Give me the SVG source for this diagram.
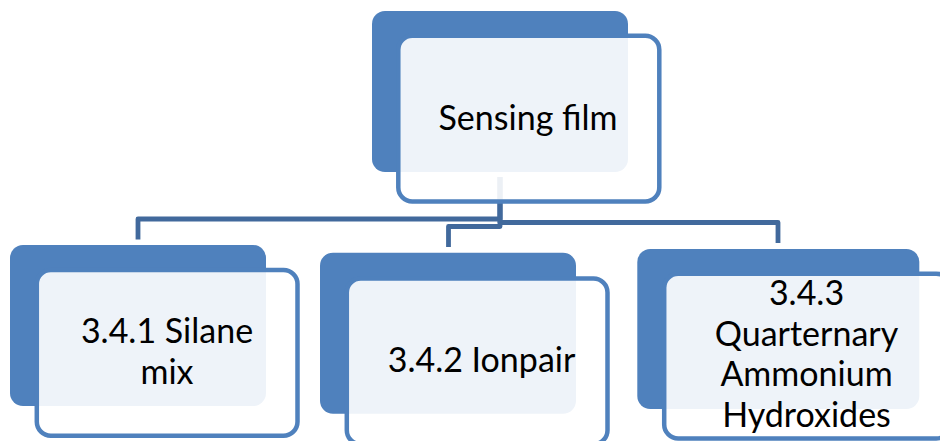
<svg xmlns="http://www.w3.org/2000/svg" width="940" height="441" viewBox="0 0 940 441">
  <style>
    .back { fill: #4F81BD; }
    .front { fill: #FFFFFF; fill-opacity: 0.9; stroke: #4F81BD; stroke-width: 4.5; }
    .link { fill: none; stroke: #41699C; stroke-width: 4.8; stroke-linejoin: round; }
    .label { font-family: Lato, "Open Sans", "Liberation Sans", sans-serif; font-size: 34px; fill: #000000; text-anchor: middle; }
  </style>
  <rect width="940" height="441" fill="#FFFFFF"/>

  <!-- elbow connectors from the root to each child -->
  <g id="connectors">
    <path class="link" d="M500,177 V219 H138 V239.5"/>
    <path class="link" d="M500,177 V222.5 H778 V243"/>
    <path class="link" d="M500,177 V226.5 H448.5 V247"/>
  </g>

  <g id="node-sensing-film">
    <rect class="back" x="372" y="11" width="256" height="161" rx="13"/>
    <rect class="front" x="398.3" y="35.8" width="261" height="165.7" rx="14"/>
    <text class="label" x="528" y="130">Sensing film</text>
  </g>

  <g id="node-silane-mix">
    <rect class="back" x="10" y="245" width="256" height="161" rx="13"/>
    <rect class="front" x="36.8" y="270" width="260.7" height="165.8" rx="14"/>
    <text class="label" x="167" y="343.3">3.4.1 Silane</text>
    <text class="label" x="167" y="384.3">mix</text>
  </g>

  <g id="node-ionpair">
    <rect class="back" x="320" y="252.7" width="256" height="161" rx="13"/>
    <rect class="front" x="346.8" y="278.5" width="260.7" height="165.7" rx="14"/>
    <text class="label" x="481.5" y="371.7">3.4.2 Ionpair</text>
  </g>

  <g id="node-quaternary-ammonium">
    <rect class="back" x="637.3" y="249" width="282" height="160" rx="13"/>
    <rect class="front" x="664.2" y="273.7" width="286" height="164.8" rx="14"/>
    <text class="label" x="806.5" y="305">3.4.3</text>
    <text class="label" x="806.5" y="345.5">Quarternary</text>
    <text class="label" x="806.5" y="386.2">Ammonium</text>
    <text class="label" x="806.5" y="426.5">Hydroxides</text>
  </g>
</svg>
